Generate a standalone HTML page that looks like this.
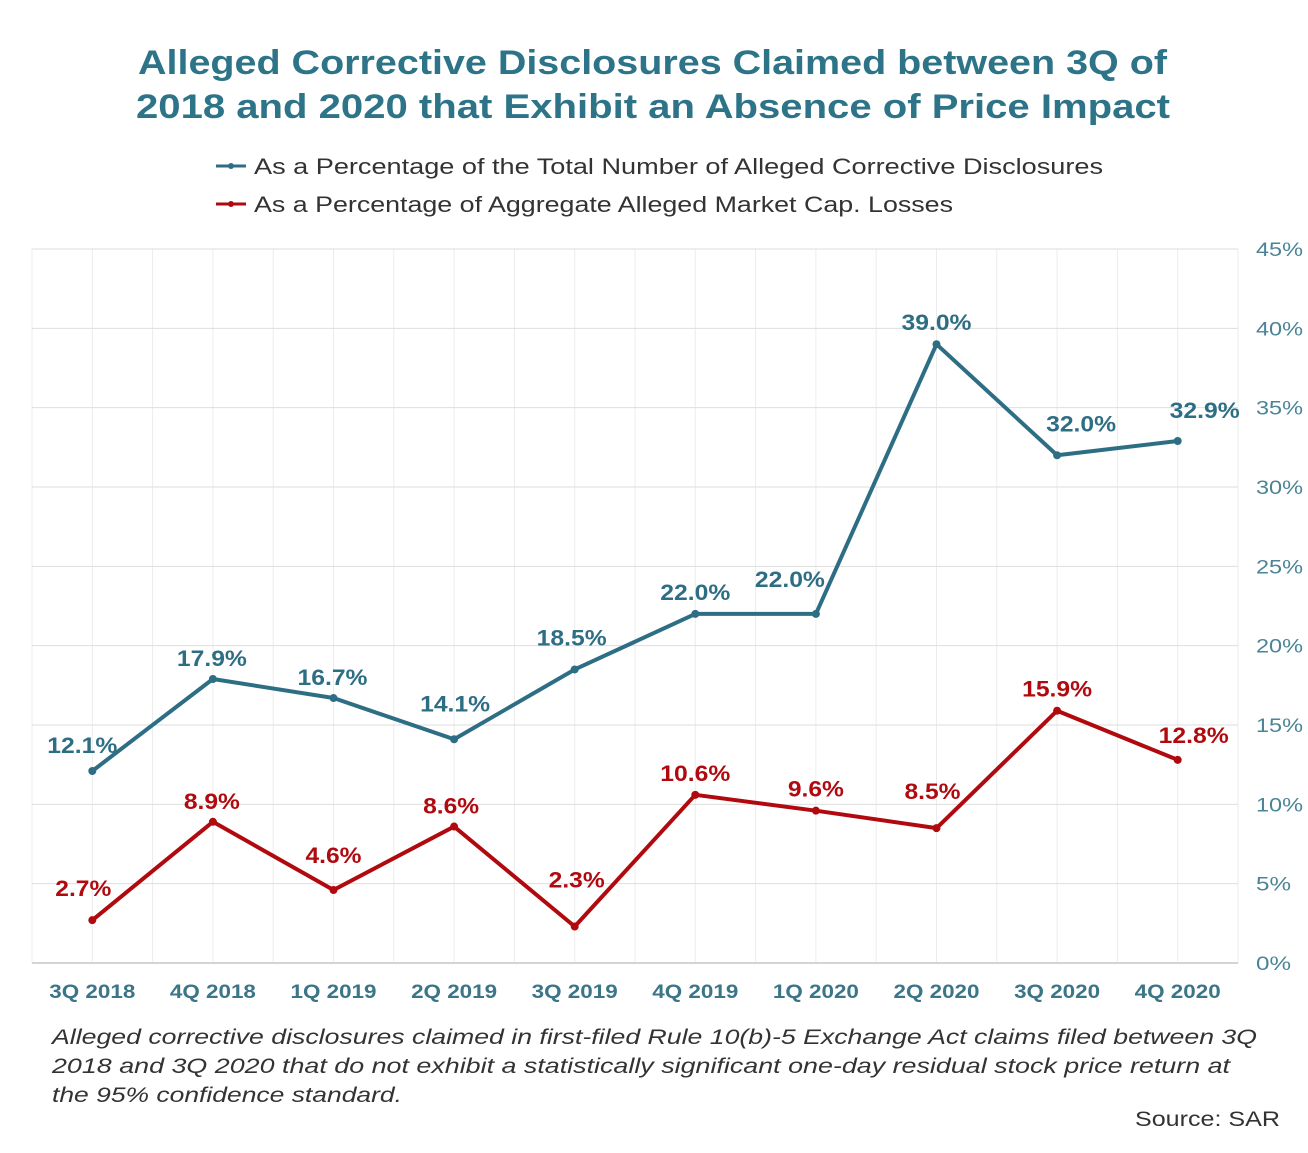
<!DOCTYPE html>
<html><head><meta charset="utf-8"><style>
body{margin:0;background:#fff;width:1308px;height:1148px;overflow:hidden;font-family:"Liberation Sans",sans-serif}
</style></head><body>
<svg id="chart" width="1308" height="1148" xmlns="http://www.w3.org/2000/svg">
<text x="138" y="74" textLength="1029" lengthAdjust="spacingAndGlyphs" font-size="34" font-weight="bold" fill="#2d7488">Alleged Corrective Disclosures Claimed between 3Q of</text>
<text x="136" y="118" textLength="1034" lengthAdjust="spacingAndGlyphs" font-size="34" font-weight="bold" fill="#2d7488">2018 and 2020 that Exhibit an Absence of Price Impact</text>
<g>
<line x1="216" y1="166" x2="246" y2="166" stroke="#2e6e85" stroke-width="3"/><circle cx="231" cy="166" r="3" fill="#2e6e85"/>
<text x="254" y="174" textLength="849" lengthAdjust="spacingAndGlyphs" font-size="22" fill="#333">As a Percentage of the Total Number of Alleged Corrective Disclosures</text>
<line x1="216" y1="204" x2="246" y2="204" stroke="#b00a0f" stroke-width="3"/><circle cx="231" cy="204" r="3" fill="#b00a0f"/>
<text x="254" y="212" textLength="699" lengthAdjust="spacingAndGlyphs" font-size="22" fill="#333">As a Percentage of Aggregate Alleged Market Cap. Losses</text>
</g>
<g id="grid"></g>
<g id="axes"></g>
<g id="series"></g>
<g font-size="21" font-style="italic" fill="#333">
<text x="52" y="1044" textLength="1205" lengthAdjust="spacingAndGlyphs">Alleged corrective disclosures claimed in first-filed Rule 10(b)-5 Exchange Act claims filed between 3Q</text>
<text x="52" y="1073" textLength="1178" lengthAdjust="spacingAndGlyphs">2018 and 3Q 2020 that do not exhibit a statistically significant one-day residual stock price return at</text>
<text x="52" y="1102" textLength="350" lengthAdjust="spacingAndGlyphs">the 95% confidence standard.</text></g>
<text x="1135" y="1126" textLength="145" lengthAdjust="spacingAndGlyphs" font-size="21" fill="#333">Source: SAR</text>
</svg>
<script>
const categories=["3Q 2018","4Q 2018","1Q 2019","2Q 2019","3Q 2019","4Q 2019","1Q 2020","2Q 2020","3Q 2020","4Q 2020"];
const disclosuresPct=[12.1,17.9,16.7,14.1,18.5,22.0,22.0,39.0,32.0,32.9];
const marketCapPct=[2.7,8.9,4.6,8.6,2.3,10.6,9.6,8.5,15.9,12.8];
const yTicks=[0,5,10,15,20,25,30,35,40,45];
const NS="http://www.w3.org/2000/svg";
const L=32,R=1238,T=249,B=963,YMAX=45;
const band=(R-L)/categories.length;
const x=i=>L+band*(i+0.5);
const y=v=>B-(v/YMAX)*(B-T);
const blueOff=[[-10,-26],[-1,-21],[-1,-21],[1,-36],[-3,-32],[0,-22],[-26,-35],[0,-22],[24,-32],[27,-31]];
const redOff=[[-9,-32],[-1,-21],[0,-35],[-3,-21],[2,-47],[0,-22],[0,-22],[-4,-37],[0,-22],[16,-25]];
function mk(tag,attrs,parent){const e=document.createElementNS(NS,tag);for(const k in attrs)e.setAttribute(k,attrs[k]);parent.appendChild(e);return e;}
const grid=document.getElementById('grid'),axes=document.getElementById('axes'),series=document.getElementById('series');
for(let i=0;i<=categories.length*2;i++){const gx=L+band*i/2;const g=mk('line',{x1:gx,x2:gx,y1:T,y2:B,stroke:'#ececec','stroke-width':1},grid);

}
yTicks.forEach(t=>{const g=mk('line',{x1:L,x2:R,y1:y(t),y2:y(t),stroke:t===0?'#d4d4d4':'#dedede','stroke-width':t===0?2:1},grid);


const lbl=t+'%';
const tx=mk('text',{x:1256,y:y(t)+7,'font-size':19,fill:'#4a8496',textLength:lbl.length===2?35:47,lengthAdjust:'spacingAndGlyphs'},axes);tx.textContent=lbl;

});
categories.forEach((c,i)=>{const tx=mk('text',{x:x(i)-43,y:998,textLength:86,lengthAdjust:'spacingAndGlyphs','font-size':19,'font-weight':'bold',fill:'#3b7587'},axes);tx.textContent=c;

});
function draw(vals,color,name,off){
const p=mk('polyline',{points:vals.map((v,i)=>x(i)+','+y(v)).join(' '),fill:'none',stroke:color,'stroke-width':4,'stroke-linejoin':'round'},series);


vals.forEach((v,i)=>{const c=mk('circle',{cx:x(i),cy:y(v),r:4,fill:color},series);


const s=v.toFixed(1)+'%';const w=s.length===4?56:70;
const t=mk('text',{x:x(i)+off[i][0]-w/2,y:y(v)+off[i][1]+8,textLength:w,lengthAdjust:'spacingAndGlyphs','font-size':22,'font-weight':'bold',fill:color},series);t.textContent=s;

});}
draw(disclosuresPct,'#2e6e85','disclosures',blueOff);
draw(marketCapPct,'#b00a0f','market-cap',redOff);
</script>
</body></html>
